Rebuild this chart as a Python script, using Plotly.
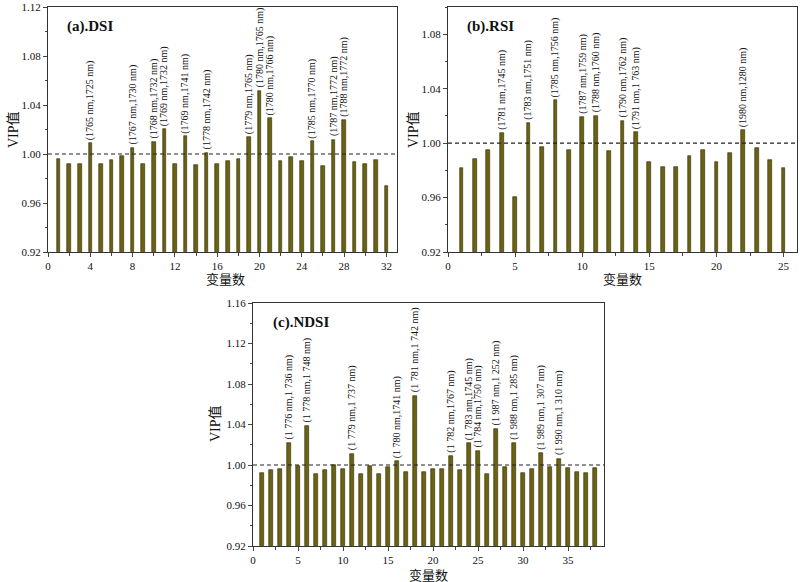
import plotly.graph_objects as go

# (a) DSI
dsi_x = list(range(1, 33))
dsi_vip = [0.996, 0.992, 0.992, 1.009, 0.992, 0.995, 0.998, 1.005, 0.9915, 1.010,
           1.0205, 0.9915, 1.0145, 0.991, 1.001, 0.992, 0.9945, 0.996, 1.0137, 1.0515,
           1.029, 0.9942, 0.9975, 0.994, 1.0104, 0.990, 1.0118, 1.028, 0.9937, 0.9915,
           0.995, 0.974]
dsi_lab_idx = [4, 8, 10, 11, 13, 15, 19, 20, 21, 25, 27, 28]
dsi_labels = ["(1765 nm,1725 nm)", "(1767 nm,1730 nm)", "(1768 nm,1732 nm)",
              "(1769 nm,1732 nm)", "(1769 nm,1741 nm)", "(1778 nm,1742 nm)",
              "(1779 nm,1765 nm)", "(1780 nm,1765 nm)", "(1780 nm,1766 nm)",
              "(1785 nm,1770 nm)", "(1787 nm,1772 nm)", "(1788 nm,1772 nm)"]

# (b) RSI
rsi_x = list(range(1, 26))
rsi_vip = [0.9815, 0.9886, 0.9946, 1.0074, 0.9605, 1.0146, 0.9973, 1.0316, 0.9948, 1.0195,
           1.0202, 0.9943, 1.0163, 1.0079, 0.9859, 0.9822, 0.9822, 0.9906, 0.9953, 0.9864,
           0.9926, 1.0096, 0.9963, 0.9874, 0.9815]
rsi_lab_idx = [4, 6, 8, 10, 11, 13, 14, 22]
rsi_labels = ["(1781 nm,1745 nm)", "(1783 nm,1751 nm)", "(1785 nm,1756 nm)",
              "(1787 nm,1759 nm)", "(1788 nm,1760 nm)", "(1790 nm,1762 nm)",
              "(1791 nm,1 763 nm)", "(1980 nm,1280 nm)"]

# (c) NDSI
ndsi_x = list(range(1, 39))
ndsi_vip = [0.9918, 0.9947, 0.996, 1.0217, 0.9993, 1.0385, 0.9914, 0.9947, 1.0003, 0.9964,
            1.0112, 0.9908, 0.9987, 0.9914, 0.9977, 1.0036, 0.9928, 1.0685, 0.9934, 0.9957,
            0.9957, 1.0092, 0.9954, 1.0214, 1.0142, 0.9908, 1.0356, 0.9984, 1.0214, 0.9921,
            0.996, 1.0115, 0.998, 1.0063, 0.9967, 0.9931, 0.9924, 0.997]
ndsi_lab_idx = [4, 6, 11, 16, 18, 22, 24, 25, 27, 29, 32, 34]
ndsi_labels = ["(1 776 nm,1 736 nm)", "(1 778 nm,1 748 nm)", "(1 779 nm,1 737 nm)",
               "(1 780 nm,1741 nm)", "(1 781 nm,1 742 nm)", "(1 782 nm,1767 nm)",
               "(1 783 nm,1745 nm)", "(1 784 nm,1750 nm)", "(1 987 nm,1 252 nm)",
               "(1 988 nm,1 285 nm)", "(1 989 nm,1 307 nm)", "(1 990 nm,1 310 nm)"]

FONT = "Liberation Serif, Times New Roman, Noto Sans CJK SC"
BAR = "#6b6212"
W, H = 800, 582

panels = [
    # x, y, label idx, labels, title, bar width, xrange, xdtick, yrange, ydtick,
    # frame box (px: left, right, top, bottom), x-title pos (px), y-title pos (px)
    (dsi_x, dsi_vip, dsi_lab_idx, dsi_labels, "(a).DSI", 0.34, [0, 33], 4, [0.92, 1.12], 0.04,
     (48, 397, 7, 252), (226, 279), (13, 130)),
    (rsi_x, rsi_vip, rsi_lab_idx, rsi_labels, "(b).RSI", 0.28, [0, 26], 5, [0.92, 1.10], 0.04,
     (448, 797, 7, 252), (622, 279), (413, 130)),
    (ndsi_x, ndsi_vip, ndsi_lab_idx, ndsi_labels, "(c).NDSI", 0.4, [0, 39], 5, [0.92, 1.16], 0.04,
     (253, 604, 303, 546), (428, 575), (215, 424)),
]

fig = go.Figure()
annotations = []
shapes = []
for i, (xs, ys, lidx, labs, title, bw, xr, xdt, yr, ydt, box, xt, yt) in enumerate(panels):
    n = "" if i == 0 else str(i + 1)
    xa, ya = "x" + n, "y" + n
    xd = [box[0] / W, box[1] / W]
    yd = [1 - box[3] / H, 1 - box[2] / H]
    fig.add_trace(go.Bar(x=xs, y=[v - yr[0] for v in ys], base=yr[0], width=bw,
                         marker=dict(color=BAR, line=dict(color="#2e2a05", width=0.6)),
                         xaxis=xa, yaxis=ya, showlegend=False))
    ax = dict(domain=xd, range=xr, dtick=xdt, tick0=0, ticks="outside", ticklen=4,
              tickwidth=1, showline=True, linecolor="#333", linewidth=1, mirror=True,
              showgrid=False, zeroline=False, anchor=ya, automargin=False,
              minor=dict(ticks="outside", ticklen=2.5, dtick=xdt / 2, tick0=0, showgrid=False),
              tickfont=dict(family=FONT, size=11, color="#111"))
    ay = dict(domain=yd, range=yr, dtick=ydt, tick0=0.92, ticks="outside", ticklen=4,
              tickwidth=1, showline=True, linecolor="#333", linewidth=1, mirror=True,
              showgrid=False, zeroline=False, anchor=xa, tickformat=".2f", automargin=False,
              minor=dict(ticks="outside", ticklen=2.5, dtick=ydt / 2, tick0=0.92, showgrid=False),
              tickfont=dict(family=FONT, size=11, color="#111"))
    fig.layout["xaxis" + n] = ax
    fig.layout["yaxis" + n] = ay
    shapes.append(dict(type="line", xref=xa + " domain", yref=ya, x0=0, x1=1, y0=1.0, y1=1.0,
                       line=dict(color="#222", width=1.2, dash="4px,3px")))
    annotations.append(dict(text="<b>" + title + "</b>", xref=xa + " domain", yref=ya + " domain",
                            x=0.05, y=0.965, xanchor="left", yanchor="top", showarrow=False,
                            font=dict(family=FONT, size=15, color="#111")))
    annotations.append(dict(text="变量数", xref="paper", yref="paper", x=xt[0] / W,
                            y=1 - xt[1] / H, showarrow=False, xanchor="center", yanchor="middle",
                            font=dict(family=FONT, size=13, color="#111")))
    annotations.append(dict(text="VIP值", xref="paper", yref="paper", x=yt[0] / W,
                            y=1 - yt[1] / H, showarrow=False, textangle=-90,
                            xanchor="center", yanchor="middle",
                            font=dict(family=FONT, size=14, color="#111")))
    for k, lab in zip(lidx, labs):
        annotations.append(dict(text=lab, x=k, y=ys[k - 1], xref=xa, yref=ya, textangle=-90,
                                xanchor="center", yanchor="bottom", yshift=1, showarrow=False,
                                font=dict(family=FONT, size=10, color="#111")))

fig.update_layout(width=W, height=H, margin=dict(l=0, r=0, t=0, b=0),
                  paper_bgcolor="white", plot_bgcolor="white", bargap=0,
                  annotations=annotations, shapes=shapes)
fig.write_html("out.html", config={"displayModeBar": False},
               post_script="document.body.style.margin='0';")
